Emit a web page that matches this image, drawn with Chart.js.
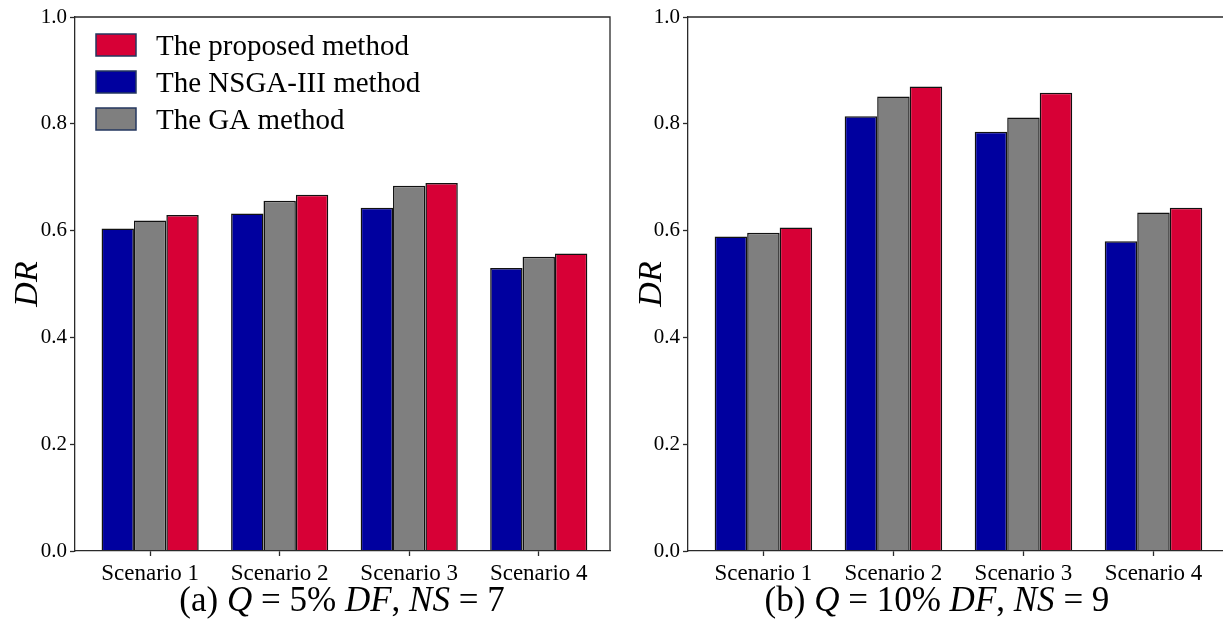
<!DOCTYPE html>
<html>
<head>
<meta charset="utf-8">
<script src="https://cdn.jsdelivr.net/npm/chart.js@4.4.1/dist/chart.umd.min.js"></script>
<style>
  html, body { margin: 0; padding: 0; background: #fff; overflow: hidden; width: 1223px; height: 628px; }
  .panel { position: absolute; top: 0; height: 628px; }
  .panel canvas { position: absolute; left: 0; top: 0; }
  .caption {
    position: absolute; top: 582px;
    font-family: 'Liberation Serif', 'Times New Roman', serif;
    font-size: 35px; line-height: 35px; white-space: nowrap;
    transform: translateX(-50%); color: #000;
  }
</style>
</head>
<body>
<div class="panel" style="left:0;width:611px">
  <canvas id="chartA" width="611" height="600"></canvas>
  <div class="caption" style="left:342px">(a) <i>Q</i> = 5% <i>DF</i>, <i>NS</i> = 7</div>
</div>
<div class="panel" style="left:611px;width:614px">
  <canvas id="chartB" width="614" height="600"></canvas>
  <div class="caption" style="left:326px">(b) <i>Q</i> = 10% <i>DF</i>, <i>NS</i> = 9</div>
</div>
<script>
// --- DATA ---
const scenarios = ['Scenario 1', 'Scenario 2', 'Scenario 3', 'Scenario 4'];
const yTicks = [0, 0.2, 0.4, 0.6, 0.8, 1.0];

// (a) Q = 5% DF, NS = 7
const nsgaA     = [0.604, 0.632, 0.643, 0.530];
const gaA       = [0.619, 0.656, 0.684, 0.551];
const proposedA = [0.629, 0.667, 0.689, 0.557];

// (b) Q = 10% DF, NS = 9
const nsgaB     = [0.589, 0.814, 0.785, 0.580];
const gaB       = [0.596, 0.851, 0.812, 0.634];
const proposedB = [0.606, 0.870, 0.858, 0.643];

const methodNames = ['The NSGA-III method', 'The GA method', 'The proposed method'];
const methodColors = ['#00009f', '#7f7f7f', '#d70036'];
const legendOrder = [2, 0, 1]; // proposed first, like the paper

const SERIF = "'Liberation Serif', 'Times New Roman', serif";
const AXIS = '#2a2a2a';

// top + right spines
const framePlugin = {
  id: 'frame',
  afterDraw(chart) {
    const { ctx, chartArea: a } = chart;
    ctx.save();
    ctx.strokeStyle = AXIS;
    ctx.lineWidth = 1.3;
    ctx.beginPath();
    ctx.moveTo(a.left, a.top);
    ctx.lineTo(a.right, a.top);
    ctx.lineTo(a.right, a.bottom);
    ctx.stroke();
    ctx.restore();
  }
};

// legend boxes inside the plot, upper left
const boxLegend = {
  id: 'boxLegend',
  afterDraw(chart, args, opts) {
    if (!opts.show) return;
    const { ctx, chartArea: a } = chart;
    ctx.save();
    ctx.font = '29px ' + SERIF;
    ctx.textBaseline = 'middle';
    legendOrder.forEach((di, row) => {
      const ds = chart.data.datasets[di];
      const x = a.left + 21;
      const y = a.top + 28 + row * 37;
      ctx.fillStyle = ds.backgroundColor;
      ctx.fillRect(x, y - 11, 40, 22);
      ctx.strokeStyle = '#24375f';
      ctx.lineWidth = 1.5;
      ctx.strokeRect(x, y - 11, 40, 22);
      ctx.fillStyle = '#000';
      ctx.fillText(ds.label, x + 60, y + 2);
    });
    ctx.restore();
  }
};

function makeChart(id, series, opt) {
  const datasets = series.map((vals, i) => ({
    label: methodNames[i],
    data: vals.map((y, x) => ({ x, y })),
    backgroundColor: methodColors[i],
    borderColor: '#111',
    borderWidth: 1.5,
    categoryPercentage: 0.75,
    barPercentage: 1.0
  }));

  return new Chart(document.getElementById(id), {
    type: 'bar',
    data: { datasets },
    plugins: [framePlugin, boxLegend],
    options: {
      responsive: false,
      animation: false,
      layout: { padding: { top: 17, right: opt.right, left: 0, bottom: 0 } },
      plugins: {
        legend: { display: false },
        tooltip: { enabled: false },
        boxLegend: { show: opt.legend }
      },
      scales: {
        x: {
          type: 'linear',
          min: -0.58,
          max: 3.55,
          offset: false,
          afterBuildTicks: s => { s.ticks = scenarios.map((_, i) => ({ value: i })); },
          afterFit: s => { s.height = 49; },
          ticks: {
            callback: v => scenarios[v],
            font: { family: SERIF, size: 23 },
            color: '#000',
            padding: 4,
            maxRotation: 0,
            autoSkip: false
          },
          grid: { drawOnChartArea: false, tickLength: 5, tickColor: AXIS, tickWidth: 1.3, offset: false },
          border: { color: AXIS, width: 1.3, z: 1 }
        },
        y: {
          min: 0,
          max: 1,
          afterBuildTicks: s => { s.ticks = yTicks.map(v => ({ value: v })); },
          afterFit: s => { s.width = opt.axisLeft; },
          ticks: {
            callback: v => v.toFixed(1),
            font: { family: SERIF, size: 21 },
            color: '#000',
            padding: 3
          },
          grid: { drawOnChartArea: false, tickLength: 5, tickColor: AXIS, tickWidth: 1.3 },
          border: { color: AXIS, width: 1.3, z: 1 },
          title: {
            display: true,
            text: 'DR',
            color: '#000',
            font: { family: SERIF, size: 34, style: 'italic', lineHeight: 1.2 },
            padding: { top: opt.titlePad, bottom: 0 }
          }
        }
      }
    }
  });
}

makeChart('chartA', [nsgaA, gaA, proposedA], { legend: true, axisLeft: 75, right: 1, titlePad: 8 });
makeChart('chartB', [nsgaB, gaB, proposedB], { legend: false, axisLeft: 77, right: 0, titlePad: 21 });
</script>
</body>
</html>
